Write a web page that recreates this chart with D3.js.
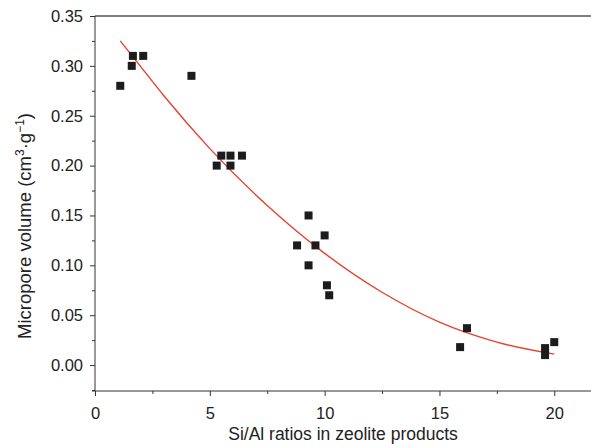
<!DOCTYPE html>
<html>
<head>
<meta charset="utf-8">
<script src="https://cdn.jsdelivr.net/npm/d3@7"></script>
<style>
  body { margin: 0; background: #fff; }
  svg { display: block; font-family: "Liberation Sans", Arial, sans-serif; }
  .axis path, .axis line { stroke: #333; }
  .axis text { fill: #222; font-size: 16.5px; }
</style>
</head>
<body>
<div id="chart"></div>
<script>
// measured points: Si/Al ratio vs micropore volume
const siAl = [1.1, 1.6, 1.65, 2.1, 4.2, 5.3, 5.5, 5.9, 5.9, 6.4,
  8.8, 9.3, 9.3, 9.6, 10.0, 10.1, 10.2, 15.9, 16.2, 19.6, 19.6, 20.0];
const micropore = [0.28, 0.30, 0.31, 0.31, 0.29, 0.20, 0.21, 0.21, 0.20, 0.21,
  0.12, 0.15, 0.10, 0.12, 0.13, 0.08, 0.07, 0.018, 0.037, 0.017, 0.010, 0.023];

// red fitted curve
const fitX = [1.1, 2, 3, 5, 7.5, 10, 12.5, 15, 17.5, 20];
const fitY = [0.325, 0.299, 0.270, 0.217, 0.160, 0.112, 0.073, 0.043, 0.023, 0.011];

const xTicks = [0, 5, 10, 15, 20];
const xMinor = [2.5, 7.5, 12.5, 17.5];
const yTicks = [0, 0.05, 0.10, 0.15, 0.20, 0.25, 0.30, 0.35];
const yMinor = [-0.025, 0.025, 0.075, 0.125, 0.175, 0.225, 0.275, 0.325];

const W = 591, H = 448;
const margin = { top: 16, left: 95, right: 0, bottom: 57 };

const svg = d3.select('#chart').append('svg')
    .attr('width', W)
    .attr('height', H);

const x = d3.scaleLinear().domain([0, 21.6]).range([margin.left, W - margin.right]);
const y = d3.scaleLinear().domain([-0.026, 0.35]).range([H - margin.bottom, margin.top]);

// top frame line
svg.append('line')
    .attr('x1', margin.left).attr('x2', W)
    .attr('y1', y(0.35)).attr('y2', y(0.35))
    .attr('stroke', '#555').attr('stroke-width', 1.6);

// y axis
svg.append('g').attr('class', 'axis')
    .attr('transform', 'translate(' + margin.left + ',0)')
    .call(d3.axisLeft(y).tickValues(yTicks).tickFormat(d3.format('.2f'))
      .tickSize(5).tickSizeOuter(0).tickPadding(7))
    .call(g => g.select('.domain').attr('d', 'M0,' + y(0.35) + 'V' + (H - margin.bottom)));

svg.append('g').attr('class', 'axis')
    .attr('transform', 'translate(' + margin.left + ',0)')
    .call(d3.axisLeft(y).tickValues(yMinor).tickFormat('').tickSize(3).tickSizeOuter(0))
    .call(g => g.select('.domain').remove());

// x axis
svg.append('g').attr('class', 'axis')
    .attr('transform', 'translate(0,' + (H - margin.bottom) + ')')
    .call(d3.axisBottom(x).tickValues(xTicks).tickFormat(d3.format('d'))
      .tickSize(5).tickSizeOuter(0).tickPadding(11))
    .call(g => g.select('.domain').attr('d', 'M' + (margin.left - 3) + ',0H' + W));

svg.append('g').attr('class', 'axis')
    .attr('transform', 'translate(0,' + (H - margin.bottom) + ')')
    .call(d3.axisBottom(x).tickValues(xMinor).tickFormat('').tickSize(3).tickSizeOuter(0))
    .call(g => g.select('.domain').remove());

// axis titles
const yTitle = svg.append('text')
    .attr('transform', 'translate(31,226) rotate(-90)')
    .attr('text-anchor', 'middle')
    .attr('font-size', 18.5)
    .attr('fill', '#222');
yTitle.append('tspan').text('Micropore volume (cm');
yTitle.append('tspan').attr('dy', -7).attr('font-size', 12).text('3');
yTitle.append('tspan').attr('dy', 7).text('·g');
yTitle.append('tspan').attr('dy', -7).attr('font-size', 12).text('−1');
yTitle.append('tspan').attr('dy', 7).text(')');

svg.append('text')
    .attr('x', (margin.left + W) / 2)
    .attr('y', 440)
    .attr('text-anchor', 'middle')
    .attr('font-size', 17.5)
    .attr('fill', '#222')
    .text('Si/Al ratios in zeolite products');

// fitted curve
const fit = fitX.map((d, i) => [d, fitY[i]]);
svg.append('path')
    .datum(fit)
    .attr('fill', 'none')
    .attr('stroke', '#e8412f')
    .attr('stroke-width', 1.4)
    .attr('d', d3.line().x(d => x(d[0])).y(d => y(d[1])).curve(d3.curveMonotoneX));

// markers
const pts = siAl.map((d, i) => ({ x: d, y: micropore[i] }));
svg.selectAll('rect.pt')
    .data(pts)
  .enter().append('rect')
    .attr('class', 'pt')
    .attr('x', d => x(d.x) - 4)
    .attr('y', d => y(d.y) - 4)
    .attr('width', 8)
    .attr('height', 8)
    .attr('fill', '#1c1c1c');
</script>
</body>
</html>
